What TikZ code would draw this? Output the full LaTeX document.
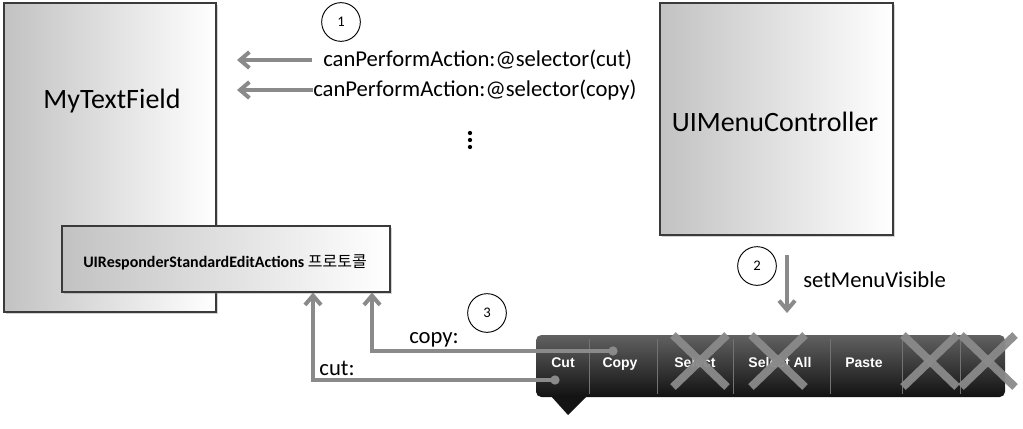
\documentclass[tikz,border=0pt]{standalone}
\usepackage{fontspec}
\setmainfont{Carlito}
\newfontfamily\kofont{Noto Sans CJK KR}
\newfontfamily\menufont{Liberation Sans}
\usetikzlibrary{arrows.meta,shadows}
\definecolor{arrowGray}{HTML}{8A8A8A}
\definecolor{boxLine}{HTML}{3A3A3A}
\definecolor{boxLeft}{HTML}{C2C2C2}

\begin{document}
\begin{tikzpicture}[x=0.75pt,y=-0.75pt]
  \tikzstyle{classBox}=[draw=boxLine,line width=0.8pt,left color=boxLeft,right color=white,inner sep=0pt,drop shadow={shadow xshift=1.2pt,shadow yshift=-1.2pt,opacity=0.35}]
  \tikzstyle{bigText}=[font=\fontsize{21}{24}\selectfont,inner sep=0pt]
  \tikzstyle{msgText}=[font=\fontsize{17}{20}\selectfont,inner sep=0pt]
  \tikzstyle{stepCircle}=[circle,draw=black,line width=0.7pt,fill=white,minimum size=29pt,inner sep=0pt,font=\fontsize{11}{12}\selectfont]
  \tikzstyle{grayArrow}=[draw=arrowGray,line width=3pt,-{Straight Barb[length=7pt,width=12pt]}]
  \tikzstyle{menuItem}=[text=white,font=\menufont\bfseries\fontsize{10.5}{12}\selectfont,inner sep=0pt,anchor=base]
  \tikzstyle{menuSep}=[draw=black!55,line width=0.6pt]
  \tikzstyle{crossMark}=[draw=arrowGray,line width=6pt,opacity=0.95]

  \useasboundingbox (0,0) rectangle (1023,428);

  % classes
  \node[classBox,minimum width=159pt,minimum height=231.75pt](myTextField) at (110,157.5) {};
  \node[bigText](myTextFieldLabel) at (112,101) {MyTextField};
  \node[classBox,minimum width=246pt,minimum height=49.5pt](protocolBox) at (226,259) {};
  \node[inner sep=0pt,font=\fontsize{12}{14}\selectfont](protocolLabel) at (225,262) {{\bfseries UIResponderStandardEditActions} {\kofont 프로토콜}};
  \node[classBox,minimum width=174.75pt,minimum height=174pt](menuController) at (776.5,119) {};
  \node[bigText](menuControllerLabel) at (775,122) {UIMenuController};

  % step 1
  \node[stepCircle](stepOne) at (341,22) {1};
  \node[msgText,anchor=west](cutMsg) at (323,60) {canPerformAction:@selector(cut)};
  \node[msgText,anchor=west](copyMsg) at (313,90) {canPerformAction:@selector(copy)};
  \coordinate (msgTip) at (237,0);
  \draw[grayArrow] ([xshift=-8pt]cutMsg.west) -- (cutMsg.west -| msgTip);
  \draw[grayArrow] (copyMsg.west) -- (copyMsg.west -| msgTip);
  \foreach \dy in {133,140,147}
    \fill (470,\dy) circle (1.6pt);

  % step 2
  \node[stepCircle](stepTwo) at (757,266) {2};
  \coordinate (showFrom) at (787,255);
  \coordinate (showTo) at (787,313);
  \draw[grayArrow] (showFrom) -- (showTo);
  \node[msgText,anchor=west](showLabel) at (803,280) {setMenuVisible};

  % menu
  \fill[black!92] (550,395) -- (568,415) -- (588,395) -- cycle;
  \node[rounded corners=4pt,top color=black!62,middle color=black!80,bottom color=black!93,minimum width=351.75pt,minimum height=46.5pt,inner sep=0pt](menuBar) at (770.5,366) {};
  \foreach \sx in {589,657,733,830,902,960}
    \draw[menuSep] (\sx,339) -- (\sx,394);
  \node[menuItem](cutItem) at (563,367) {Cut};
  \node[menuItem](copyItem) at (620,367) {Copy};
  \node[menuItem](selectItem) at (695,367) {Select};
  \node[menuItem](selectAllItem) at (780,367) {Select All};
  \node[menuItem](pasteItem) at (864,367) {Paste};
  \foreach \cx in {700,778,930,988}
  {
    \draw[crossMark] (\cx-27,361-26) -- (\cx+27,361+26);
    \draw[crossMark] (\cx+27,361-26) -- (\cx-27,361+26);
  }

  % step 3
  \node[stepCircle](stepThree) at (487,313) {3};
  \coordinate (copyDot) at (613,351);
  \coordinate (copyTurn) at (372,351);
  \draw[grayArrow] (copyDot) -- (copyTurn) -- (copyTurn |- protocolBox.south);
  \fill[arrowGray] (copyDot) circle (3.5pt);
  \coordinate (cutDot) at (555,380);
  \coordinate (cutTurn) at (313,380);
  \draw[grayArrow] (cutDot) -- (cutTurn) -- (cutTurn |- protocolBox.south);
  \fill[arrowGray] (cutDot) circle (3.5pt);
  \node[msgText](copyLabel) at (434,340) {copy:};
  \node[msgText](cutLabel) at (337,368) {cut:};
\end{tikzpicture}
\end{document}
